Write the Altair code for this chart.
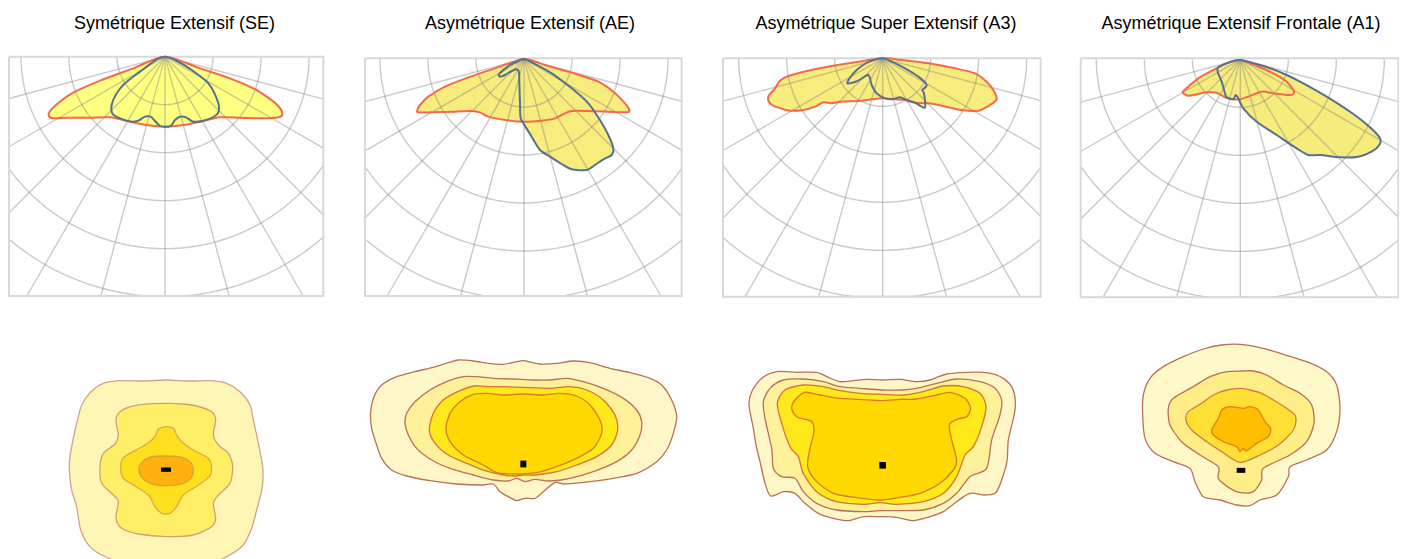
import math
import altair as alt
import pandas as pd

FONT = "Liberation Sans"
TITLES = ["Symétrique Extensif (SE)", "Asymétrique Extensif (AE)",
          "Asymétrique Super Extensif (A3)", "Asymétrique Extensif Frontale (A1)"]
TITLE_X = [174.5, 530, 886, 1241]
TITLE_Y = 24

# ---- polar diagrams: outlines (1 unit = 1/3 px, panel frame)
P1_RED = [(495,50),(400,85),(300,122),(220,158),(180,185),(150,213),(147,228),(160,235),(200,233),(270,233),(330,232),(390,245),(440,255),(495,260),(550,255),(600,245),(660,232),(720,233),(790,235),(835,232),(847,222),(835,198),(800,170),(760,145),(690,115),(600,85)]
P1_BLUE = [(495,50),(470,58),(420,95),(375,130),(350,160),(335,195),(338,222),(360,235),(395,245),(415,242),(435,230),(452,230),(465,243),(480,258),(495,260),(512,258),(525,240),(540,230),(558,232),(580,245),(610,242),(645,228),(657,210),(650,175),(625,130),(575,90),(525,60)]
P2_RED = [(507,57),(420,85),(340,112),(270,140),(220,170),(195,195),(187,210),(190,217),(230,217),(300,215),(350,213),(375,217),(400,230),(450,240),(510,245),(560,242),(600,235),(625,222),(650,213),(700,213),(760,215),(815,217),(823,210),(810,190),(775,155),(730,125),(650,98),(570,75)]
P2_BLUE = [(507,57),(490,63),(465,75),(445,90),(432,103),(435,110),(450,105),(470,93),(485,88),(492,97),(493,130),(495,190),(497,235),(510,258),(530,290),(555,330),(585,350),(620,372),(650,388),(695,390),(720,375),(745,358),(770,345),(775,325),(760,285),(735,240),(700,190),(650,145),(590,100),(540,72)]
P3_RED = [(505,55),(430,65),(350,78),(280,92),(220,108),(195,122),(180,145),(160,170),(165,190),(190,203),(225,212),(265,210),(300,200),(325,187),(350,190),(380,185),(430,183),(470,178),(505,175),(540,178),(570,180),(600,188),(640,190),(680,197),(740,210),(790,212),(825,195),(845,178),(835,150),(815,125),(780,100),(720,85),(640,70),(560,60)]
P3_BLUE = [(505,55),(470,62),(440,78),(415,100),(397,128),(405,130),(430,122),(460,105),(470,135),(485,160),(510,175),(530,178),(555,172),(575,180),(600,188),(630,203),(627,160),(622,150),(635,135),(610,110),(570,85),(530,65)]
P4_RED = [(510,60),(470,70),(430,90),(385,115),(355,140),(338,157),(355,167),(385,162),(410,157),(440,158),(465,172),(490,178),(510,178),(535,170),(575,155),(610,160),(660,165),(672,155),(650,125),(610,100),(560,78)]
P4_BLUE = [(510,60),(475,68),(445,82),(443,95),(455,125),(465,160),(470,172),(490,178),(497,165),(505,175),(520,205),(560,245),(620,285),(680,325),(715,345),(750,345),(810,352),(865,350),(905,335),(928,315),(930,295),(900,262),(850,222),(770,170),(700,130),(650,105),(610,88),(560,72)]

# ---- isolux contours: outlines (outer to inner)
B1 = [
 [(350,30),(280,33),(210,32),(160,40),(120,68),(95,105),(85,140),(72,195),(60,260),(58,300),(65,360),(80,410),(92,480),(120,530),(165,560),(220,578),(350,585),(480,578),(530,560),(580,525),(605,475),(620,420),(637,350),(638,290),(625,220),(610,150),(600,105),(570,65),(530,40),(480,32),(420,33)],
 [(350,100),(280,103),(235,112),(205,130),(198,155),(205,195),(195,222),(160,250),(150,290),(155,340),(190,375),(205,395),(198,445),(215,475),(265,492),(350,500),(430,495),(485,470),(497,445),(490,400),(505,375),(540,340),(548,290),(535,250),(505,225),(490,195),(497,150),(485,125),(440,108),(400,102)],
 [(347,170),(325,178),(315,200),(290,222),(240,250),(218,265),(212,295),(220,325),(250,345),(295,375),(315,410),(335,430),(360,430),(380,410),(400,375),(445,345),(478,320),(485,295),(475,265),(430,240),(395,215),(380,195),(370,175)],
 [(348,258),(300,262),(275,278),(267,300),(278,325),(310,343),(348,347),(395,342),(422,325),(430,300),(420,275),(395,262)],
]
B2 = [
 [(430,43),(385,40),(340,33),(295,30),(265,38),(220,52),(165,65),(105,82),(65,105),(42,140),(32,185),(35,235),(50,285),(65,325),(95,360),(140,378),(210,392),(290,402),(370,405),(400,402),(420,425),(445,440),(470,452),(495,445),(525,445),(550,425),(585,397),(610,402),(670,397),(760,385),(830,370),(890,335),(920,300),(940,250),(950,200),(935,150),(905,105),(870,85),(810,68),(750,55),(690,38),(640,33),(590,40),(540,42),(515,37),(490,32),(460,37)],
 [(520,90),(460,87),(400,85),(350,80),(310,80),(260,95),(210,120),(165,155),(140,190),(135,220),(145,255),(170,295),(215,330),(270,355),(340,375),(400,390),(445,393),(470,385),(495,395),(525,388),(570,393),(630,385),(700,365),(770,335),(815,300),(840,255),(845,215),(830,180),(790,145),(730,115),(670,95),(620,85),(570,90)],
 [(490,112),(430,110),(390,110),(345,108),(300,122),(250,150),(220,190),(208,240),(225,280),(265,315),(320,340),(375,362),(430,375),(460,378),(490,375),(525,375),(590,365),(650,345),(710,320),(755,285),(773,240),(765,195),(730,150),(680,120),(630,110),(570,115)],
 [(490,132),(430,135),(385,130),(340,133),(300,155),(270,190),(258,235),(270,275),(310,315),(370,345),(410,368),(470,372),(530,368),(590,350),(650,325),(700,295),(725,250),(720,210),(690,165),(650,138),(600,130),(550,135)],
]
B3 = [
 [(425,60),(380,58),(340,62),(300,65),(265,52),(230,37),(170,37),(110,35),(65,55),(35,95),(27,135),(40,205),(48,255),(60,305),(75,370),(92,408),(130,395),(165,400),(195,430),(235,460),(280,475),(325,482),(370,470),(420,470),(470,472),(520,482),(570,470),(610,455),(650,425),(690,400),(735,405),(770,395),(800,310),(805,240),(825,150),(820,90),(790,55),(740,38),(680,37),(620,42),(570,60),(530,65),(480,58)],
 [(425,90),(360,85),(300,80),(250,65),(190,57),(130,60),(90,85),(70,125),(75,175),(95,265),(100,325),(125,350),(165,355),(190,395),(230,430),(290,450),(370,455),(420,452),(480,452),(550,450),(610,430),(650,400),(690,350),(740,325),(755,240),(780,165),(785,120),(765,85),(720,65),(650,57),(590,70),(530,85),(480,90)],
 [(425,103),(360,100),(300,92),(250,80),(190,75),(135,90),(112,130),(125,190),(150,260),(175,290),(190,340),(230,395),(290,425),(370,433),(420,428),(470,433),(550,425),(610,400),(650,350),(675,285),(700,260),(725,200),(738,140),(720,100),(670,80),(610,78),(550,95),(490,105)],
 [(425,122),(360,118),(300,115),(240,105),(195,97),(165,120),(155,145),(170,170),(215,185),(222,215),(210,265),(203,320),(230,365),(280,400),(350,413),(420,420),(480,412),(540,400),(600,370),(640,330),(650,300),(635,240),(628,195),(650,178),(680,170),(692,145),(675,115),(630,97),(590,105),(530,117),(480,118)],
]
B4 = [
 [(330,28),(275,30),(220,42),(160,65),(100,95),(60,130),(40,180),(38,240),(45,310),(75,355),(130,380),(180,400),(195,440),(220,485),(270,495),(320,510),(360,512),(390,495),(440,480),(475,425),(480,395),(530,375),(590,345),(620,290),(630,220),(620,150),(590,110),(530,80),(460,58),(400,40)],
 [(335,108),(290,110),(240,125),(190,155),(130,190),(115,220),(120,270),(155,320),(210,360),(265,395),(265,430),(300,460),(330,473),(370,470),(395,435),(400,400),(480,360),(530,320),(552,265),(545,210),(510,175),(460,150),(410,120),(370,108)],
 [(330,160),(290,165),(250,180),(215,205),(175,230),(168,255),(185,285),(230,320),(275,350),(330,382),(390,360),(445,330),(490,285),(497,245),(470,220),(430,195),(395,175),(360,165)],
 [(340,220),(300,215),(275,225),(265,250),(245,285),(250,300),(280,320),(320,335),(330,350),(340,340),(350,348),(380,325),(415,305),(422,280),(405,260),(385,225),(360,215)],
]
MARKERS = [(348,299,30,13),(490,342,18,20),(428,316,20,20),(333,406,26,15)]

# ---- layout (frame origin in px, box and pole in panel units)
TOP_ORIGIN = [(0,40),(355,40),(715,40),(1070,40)]
TOP_BOX = [(27,970,50,768),(30,980,55,768),(24,977,55,770),(32,985,55,772)]
TOP_POLE = [(495,50),(507,57),(503,55),(511,58)]
BOT_ORIGIN = [(50,370),(360,350),(740,360),(1130,335)]
TOP_FILL = ["#ffff80", "#f8ec7c", "#f8ec7c", "#f6ec7c"]
BOT_FILL = [["#fff6b5","#ffef66","#ffe01e","#ffb20f"],
            ["#fff7c8","#fff09a","#ffe91a","#ffd900"],
            ["#fff7c8","#fff09a","#ffe91a","#ffd900"],
            ["#fff8c8","#ffee88","#ffdf33","#ffbf00"]]
BOT_STROKE = [["#cfa58c","#cfa078","#d8aa50","#dca030"],
              ["#b87058","#b87058","#d8703a","#d87a2a"],
              ["#b87058","#b87058","#d8703a","#d87a2a"],
              ["#b87058","#b87058","#c88040","#e08020"]]
RINGS = [144, 288, 432, 576, 720]
RAYS = list(range(-75, 76, 15))
W, H = 1391, 551

X = alt.X("x:Q", axis=None, scale=alt.Scale(domain=[24, 24 + 3*W], nice=False, zero=False))
Y = alt.Y("y:Q", axis=None, scale=alt.Scale(domain=[24, 24 + 3*H], reverse=True, nice=False, zero=False))


def frame(pts, origin):
    return pd.DataFrame({"x": [p[0] + origin[0]*3 for p in pts],
                         "y": [p[1] + origin[1]*3 for p in pts],
                         "i": range(len(pts))})


def shape(pts, origin, fill=None, stroke=None, width=1.5):
    kw = dict(interpolate="cardinal-closed", tension=0.2)
    if fill:
        kw["fill"] = fill
    kw["stroke"] = stroke if stroke else "transparent"
    kw["strokeWidth"] = width
    return alt.Chart(frame(pts, origin)).mark_line(**kw).encode(x=X, y=Y, order=alt.Order("i:Q"))


grid_rows, border_rows = [], []
for n, ((ox, oy), (l, r, t, b), (px, py)) in enumerate(zip(TOP_ORIGIN, TOP_BOX, TOP_POLE)):
    line = 0
    for deg in RAYS:
        a = math.radians(deg)
        sx, sy = math.sin(a), math.cos(a)
        s = min((b - py)/sy, ((r - px) if sx > 0 else (px - l))/abs(sx) if sx else 1e9)
        for k, q in enumerate((0, s)):
            grid_rows.append(dict(x=ox*3 + px + q*sx, y=oy*3 + py + q*sy, i=k, line=f"{n}r{line}"))
        line += 1
    for rad in RINGS:
        k = 0
        for d in range(-900, 901, 5):
            a = math.radians(d/10)
            xx, yy = px + rad*math.sin(a), py + rad*math.cos(a)
            if l <= xx <= r and t <= yy <= b:
                grid_rows.append(dict(x=ox*3 + xx, y=oy*3 + yy, i=k, line=f"{n}c{rad}"))
                k += 1
    for k, (xx, yy) in enumerate([(l,t),(r,t),(r,b),(l,b),(l,t)]):
        border_rows.append(dict(x=ox*3 + xx, y=oy*3 + yy, i=k, line=f"{n}"))

grid = alt.Chart(pd.DataFrame(grid_rows)).mark_line(
    stroke="#808080", strokeOpacity=0.42, strokeWidth=1.4
).encode(x=X, y=Y, detail="line:N", order=alt.Order("i:Q"))
border = alt.Chart(pd.DataFrame(border_rows)).mark_line(
    stroke="#d8d8d8", strokeWidth=2
).encode(x=X, y=Y, detail="line:N", order=alt.Order("i:Q"))

layers = []
tops = [(P1_RED, P1_BLUE), (P2_RED, P2_BLUE), (P3_RED, P3_BLUE), (P4_RED, P4_BLUE)]
for (red, blue), org, fill in zip(tops, TOP_ORIGIN, TOP_FILL):
    layers.append(shape(red, org, fill=fill))
    layers.append(shape(blue, org, fill=fill))
layers += [grid, border]
for (red, blue), org in zip(tops, TOP_ORIGIN):
    layers.append(shape(red, org, stroke="#f4694c", width=2))
    layers.append(shape(blue, org, stroke="#56708e", width=2))

for conts, org, fills, strokes in zip([B1, B2, B3, B4], BOT_ORIGIN, BOT_FILL, BOT_STROKE):
    for pts, f, s in zip(conts, fills, strokes):
        layers.append(shape(pts, org, fill=f, stroke=s, width=1.3))

mrows = [dict(x=ox*3 + m[0] - m[2]/2, x2=ox*3 + m[0] + m[2]/2,
              y=oy*3 + m[1] - m[3]/2, y2=oy*3 + m[1] + m[3]/2)
         for m, (ox, oy) in zip(MARKERS, BOT_ORIGIN)]
layers.append(alt.Chart(pd.DataFrame(mrows)).mark_rect(color="#000000").encode(x=X, x2="x2:Q", y=Y, y2="y2:Q"))

tdf = pd.DataFrame({"x": [v*3 for v in TITLE_X], "y": [TITLE_Y*3]*4, "t": TITLES})
layers.append(alt.Chart(tdf).mark_text(font=FONT, fontSize=18, color="#000000", align="center", baseline="middle").encode(x=X, y=Y, text="t:N"))

chart = alt.layer(*layers).properties(
    width=W, height=H, padding=0, autosize=alt.AutoSizeParams(type="none"),
    background="#ffffff",
).configure_view(stroke=None)

chart.save("out.html", embed_options={"renderer": "svg", "actions": False})
